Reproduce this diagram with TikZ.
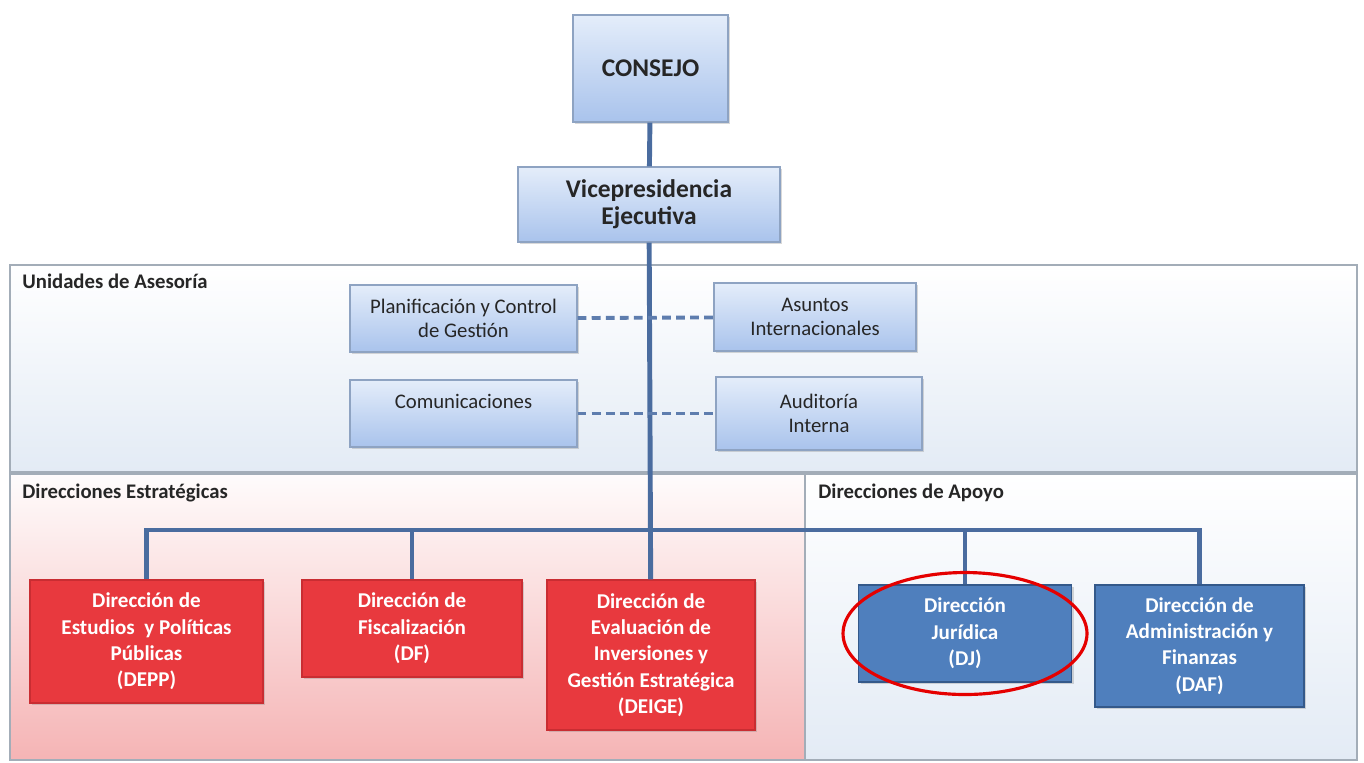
\documentclass[tikz,border=0pt]{standalone}
\usepackage{fontspec}
\setmainfont{Carlito}
\usepackage{tikz}
\usetikzlibrary{shadows}
\definecolor{linkblue}{HTML}{4A6C9F}
\definecolor{dashblue}{HTML}{5E7DAE}
\definecolor{panelgray}{HTML}{A3ADB8}
\definecolor{unittop}{HTML}{E4EDFA}
\definecolor{unitbot}{HTML}{A9C3EC}
\definecolor{unitedge}{HTML}{8EA3C2}
\definecolor{stratred}{HTML}{E8393E}
\definecolor{stratedge}{HTML}{C92D32}
\definecolor{supblue}{HTML}{4F7FBD}
\definecolor{supedge}{HTML}{34598A}
\definecolor{pinkbot}{HTML}{F5B4B5}
\definecolor{palebot}{HTML}{E3EBF5}

\begin{document}
\begin{tikzpicture}[x=0.02cm,y=-0.02cm,
  unit/.style={draw=unitedge,line width=0.8pt,top color=unittop,bottom color=unitbot,
   align=center,inner sep=2pt,font=\fontsize{11.8}{14}\selectfont,text=black!85,
   drop shadow={opacity=0.3,shadow xshift=1.2pt,shadow yshift=-1.2pt}},
  head/.style={unit,font=\fontsize{14.5}{15.3}\bfseries\selectfont},
  strat/.style={draw=stratedge,line width=0.8pt,fill=stratred,text=white,align=center,
   inner sep=2pt,font=\fontsize{12}{15}\bfseries\selectfont,
   drop shadow={opacity=0.3,shadow xshift=1.2pt,shadow yshift=-1.2pt}},
  supp/.style={strat,draw=supedge,fill=supblue},
  tag/.style={anchor=north west,inner sep=0pt,font=\fontsize{11.8}{13}\bfseries\selectfont,text=black!85},
  link/.style={linkblue,line width=2.8pt},
  advice/.style={dashblue,line width=2.2pt,dash pattern=on 5pt off 3pt}]
 \useasboundingbox (0,0) rectangle (1364,762);
 \path[draw=panelgray,line width=0.9pt,top color=white,bottom color=palebot]
  (10,265) rectangle (1357,472);
 \path[draw=panelgray,line width=0.9pt,top color=white!96!pinkbot,bottom color=pinkbot]
  (10,474) rectangle (805,760);
 \path[draw=panelgray,line width=0.9pt,top color=white,bottom color=palebot]
  (805,474) rectangle (1357,760);
 \node[tag] (tasesoria) at (22,274) {Unidades de Asesoría};
 \node[tag] (testrat) at (22,484) {Direcciones Estratégicas};
 \node[tag] (tapoyo) at (818,484) {Direcciones de Apoyo};

 \node[head,minimum width=3.1cm,minimum height=2.14cm] (consejo) at (650.5,68.5) {CONSEJO};
 \node[head,minimum width=5.24cm,minimum height=1.5cm] (vice) at (649,204.5) {Vicepresidencia\\Ejecutiva};

 \node[strat,minimum width=4.66cm,minimum height=2.46cm] (depp) at (146.5,641.5)
  {Dirección de\\Estudios~ y Políticas\\Públicas\\(DEPP)};
 \node[strat,minimum width=4.4cm,minimum height=1.94cm] (df) at (412,628.5)
  {Dirección de\\Fiscalización\\(DF)};
 \node[strat,minimum width=4.16cm,minimum height=3cm] (deige) at (651,655)
  {Dirección de\\Evaluación de\\Inversiones y\\Gestión Estratégica\\(DEIGE)};
 \node[supp,minimum width=4.26cm,minimum height=1.94cm] (dj) at (965,633.5)
  {Dirección\\Jurídica\\(DJ)};
 \node[supp,minimum width=4.18cm,minimum height=2.44cm] (daf) at (1199.5,646)
  {Dirección de\\Administración y\\Finanzas\\(DAF)};

 \coordinate (bus) at (651,530);
 \draw[link] (consejo) -- (vice);
 \draw[link] (vice) -- (deige);
 \draw[link] (depp.north) |- (bus) -| (daf.north);
 \foreach \d in {df,dj}
  \draw[link] (\d.north) -- (\d.north |- bus);

 \node[unit,minimum width=4.54cm,minimum height=1.34cm] (plan) at (463.5,318.5)
  {Planificación y Control\\de Gestión};
 \node[unit,minimum width=4.04cm,minimum height=1.36cm] (asuntos) at (815,317)
  {Asuntos\\Internacionales};
 \node[unit,minimum width=4.54cm,minimum height=1.34cm] (comun) at (463.5,413.5)
  {Comunicaciones\\\mbox{}};
 \node[unit,minimum width=4.12cm,minimum height=1.46cm] (audit) at (819,413.5)
  {Auditoría\\Interna};
 \draw[advice] (plan) -- (asuntos);
 \draw[advice] (comun) -- (audit);

 \draw[red!90!black,line width=1.8pt] (dj.center) ellipse (2.44cm and 1.22cm);
\end{tikzpicture}
\end{document}
